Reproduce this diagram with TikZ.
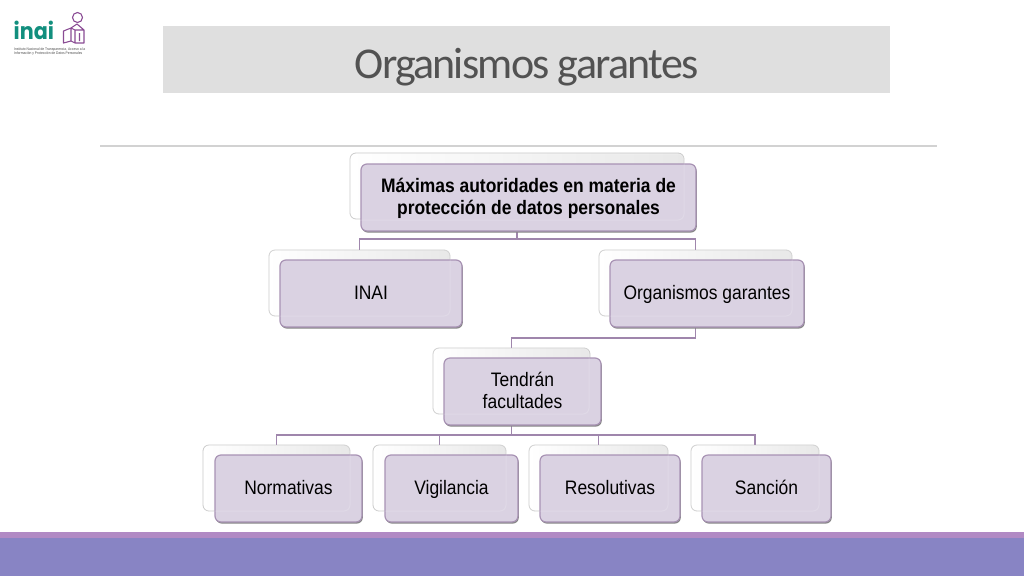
\documentclass[tikz,border=0pt]{standalone}
\usepackage{fontspec}
\setmainfont[FakeStretch=0.895]{Liberation Sans}
\newfontfamily\titlefont[LetterSpace=-3.95]{Carlito}
\newfontfamily\logofont[FakeStretch=0.9]{Poppins}
\usetikzlibrary{calc}
\definecolor{linkc}{HTML}{9F86AC}
\definecolor{frontc}{HTML}{DAD2E2}
\definecolor{edgec}{HTML}{A893B4}
\definecolor{backc}{HTML}{C9C9C9}
\definecolor{bandc}{HTML}{DFDFDF}
\definecolor{ruleb}{HTML}{D2D2D2}
\definecolor{stripc}{HTML}{B18AC4}
\definecolor{footc}{HTML}{8884C4}
\definecolor{tealc}{HTML}{128F7E}
\definecolor{logop}{HTML}{8A4C94}
\newcommand{\lstrut}{\vrule height 17.1pt depth 4.9pt width 0pt\relax}
\tikzset{
  backbox/.style={rectangle,rounded corners=6pt,draw=backc,line width=.8pt,left color=white,right color=black!9,inner sep=0pt},
  ghostbox/.style={rectangle,rounded corners=6pt,draw=white,draw opacity=.16,line width=1pt,inner sep=0pt},
  frontbox/.style={rectangle,rounded corners=6pt,draw=edgec,line width=1.2pt,fill=frontc,inner sep=0pt,align=center,font=\fontsize{19.5}{22}\selectfont,text=black},
  shadowbox/.style={rectangle,rounded corners=6pt,fill=black!48,inner sep=0pt},
  linkline/.style={draw=linkc,line width=1.4pt}
}
\newcommand{\orgback}[5]{% name, x1, y1, x2, y2
  \node[backbox,minimum width=#4-#2,minimum height=#5-#3] (#1b) at ({(#2+#4)/2},{(#3+#5)/2}) {};
}
\newcommand{\orgfront}[6]{% name, x1, y1, x2, y2, text
  \node[shadowbox,minimum width=#4-#2,minimum height=#5-#3] (#1s) at ({(#2+#4)/2+.8},{(#3+#5)/2+1.6}) {};
  \node[frontbox,minimum width=#4-#2,minimum height=#5-#3] (#1f) at ({(#2+#4)/2},{(#3+#5)/2}) {#6};
  \node[ghostbox,minimum width=#4-#2-1,minimum height=#5-#3-1] (#1g) at ({(#2+#4)/2-11.5},{(#3+#5)/2-10.5}) {};
}
\begin{document}
\begin{tikzpicture}[x=1pt,y=-1pt]
\useasboundingbox (0,0) rectangle (1024,576);
\fill[white] (0,0) rectangle (1024,576);
% title and decoration
\fill[bandc] (163,26) rectangle (890,93);
\node[font=\titlefont\fontsize{44}{50}\selectfont,text=black!68,inner sep=0pt,anchor=base] (title) at (526.5,78) {Organismos garantes};
\draw[ruleb,line width=1.2pt] (100,146) -- (937,146);
\fill[stripc] (0,532) rectangle (1024,538);
\fill[footc] (0,538) rectangle (1024,576);
% logo
\node[font=\logofont\bfseries\fontsize{23}{23}\selectfont,text=tealc,inner sep=0pt,anchor=base west] (logotext) at (13.5,39.5) {inai};
\node[font=\fontsize{3.7}{4.4}\selectfont,text=black!70,inner sep=0pt,anchor=north west,align=left] (logosub) at (14,47.5) {Instituto Nacional de Transparencia, Acceso a la\\Información y Protección de Datos Personales};
\draw[logop,line width=1.1pt] (77.5,17.5) circle (5);
\draw[logop,line width=1.1pt,line join=round] (63.5,31) -- (71,28) -- (71,41) -- (63.5,43) -- cycle
  (71,28) -- (77,24) -- (84,30) -- (84,43) -- (75,43) -- (75,30) -- (84,30)
  (75,43) -- (71,41) (75,30) -- (71,28) (79.5,33) -- (79.5,41);
% back boxes
\orgback{a}{350}{153}{684}{219}
\orgback{b}{269}{250}{450}{316}
\orgback{c}{599}{250}{792}{316}
\orgback{d}{433}{348}{590}{414}
\orgback{e}{203}{445}{350}{511}
\orgback{g}{373}{445}{506}{511}
\orgback{h}{529}{445}{668}{511}
\orgback{i}{691}{445}{819}{511}
% connectors
\coordinate (bus1) at (517,239);
\coordinate (bus2) at (695.5,338);
\coordinate (bus3) at (511.5,435);
\draw[linkline] (ab.south) -- (bus1) -| (bb.north);
\draw[linkline] (bus1) -| (cb.north);
\draw[linkline] (cb.south) -- (bus2) -| (db.north);
\draw[linkline] (db.south) -- (bus3) -| (eb.north);
\draw[linkline] (bus3) -| (gb.north);
\draw[linkline] (bus3) -| (hb.north);
\draw[linkline] (bus3) -| (ib.north);
% front boxes
\orgfront{a}{361}{164}{696}{231}{\lstrut\textbf{Máximas autoridades en materia de}\\\lstrut\textbf{protección de datos personales}}
\orgfront{b}{280}{260}{462}{327}{\lstrut INAI}
\orgfront{c}{610}{260}{804}{327}{\lstrut Organismos garantes}
\orgfront{d}{444}{358}{601}{425}{\lstrut Tendrán\\\lstrut facultades}
\orgfront{e}{215}{455}{362}{522}{\lstrut Normativas}
\orgfront{g}{385}{455}{518}{522}{\lstrut Vigilancia}
\orgfront{h}{540}{455}{680}{522}{\lstrut Resolutivas}
\orgfront{i}{702}{455}{831}{522}{\lstrut Sanción}
\end{tikzpicture}
\end{document}
